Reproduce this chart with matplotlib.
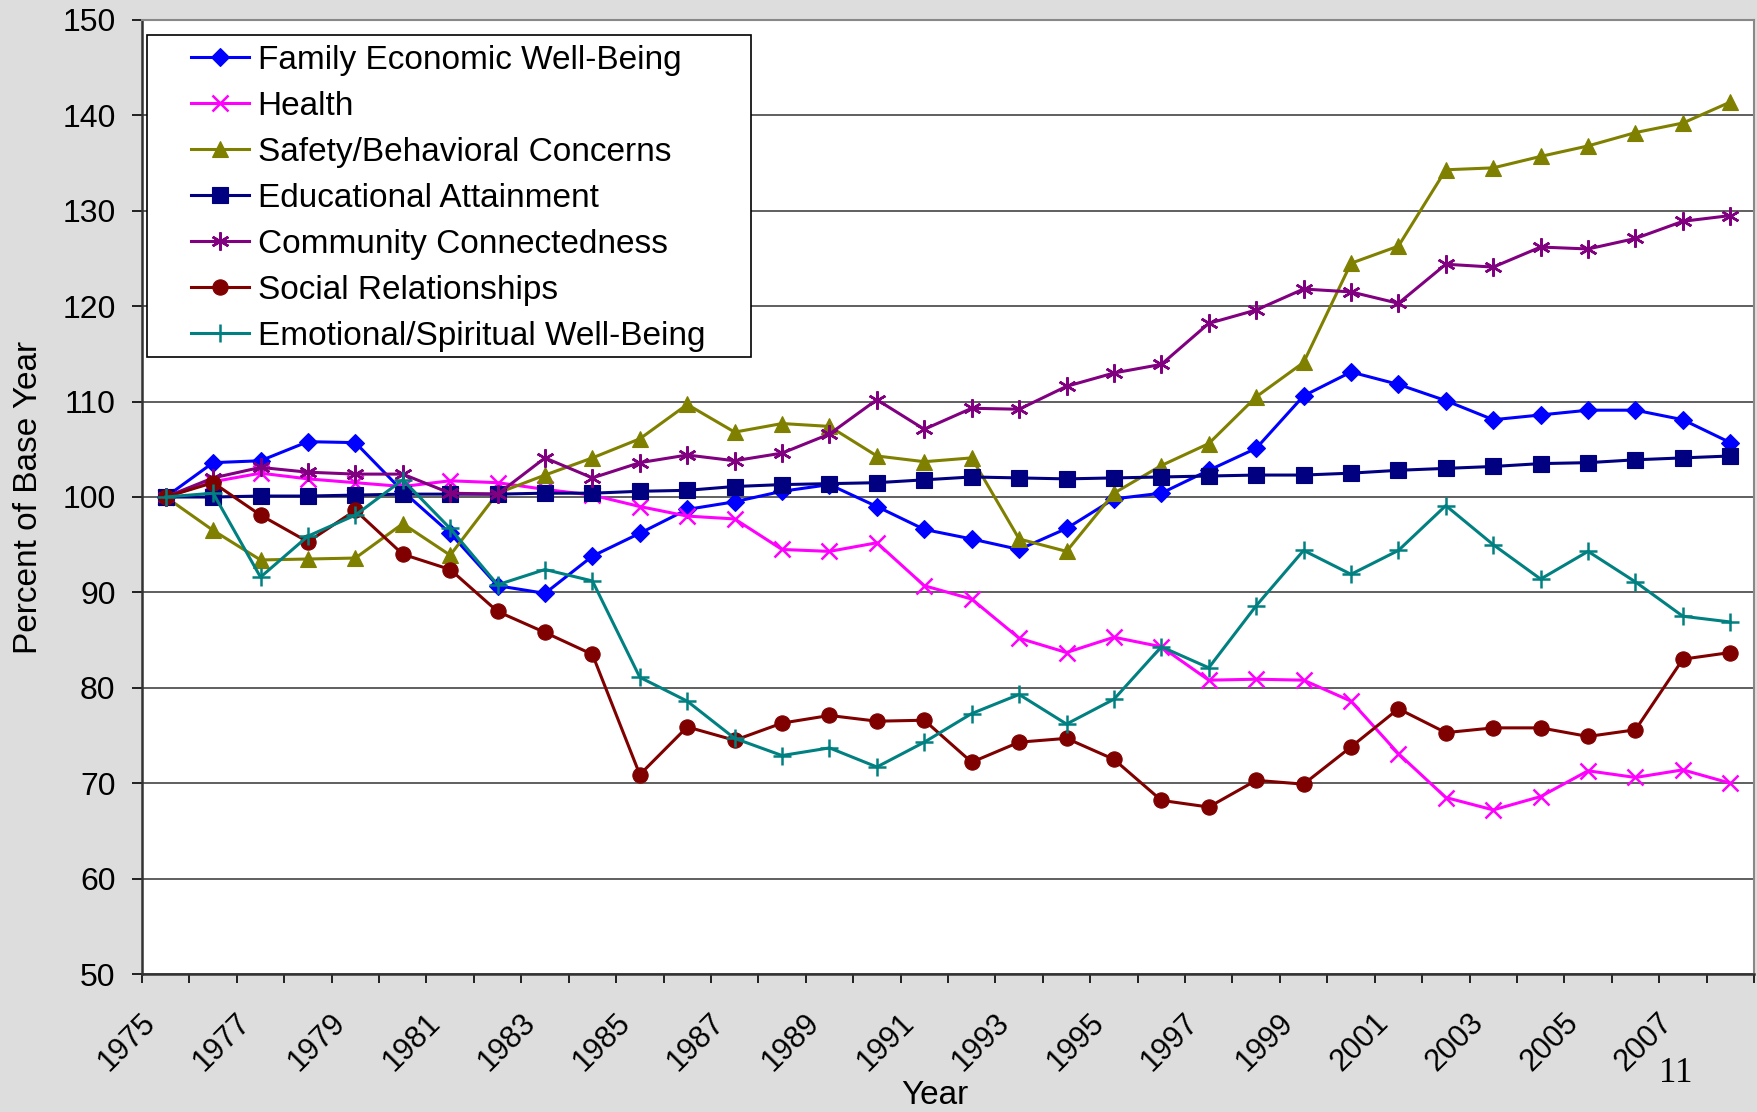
import numpy as np
import matplotlib
matplotlib.use("Agg")
import matplotlib.pyplot as plt
from matplotlib.patches import Rectangle
from matplotlib.transforms import ScaledTranslation, blended_transform_factory

plt.rcParams['font.family'] = ['Liberation Sans', 'DejaVu Sans']

years = list(range(1975, 2009))

family_econ = [100, 103.6, 103.8, 105.8, 105.7, 100.6, 96.2, 90.7, 89.9, 93.8, 96.2, 98.7,
               99.5, 100.6, 101.3, 99.0, 96.6, 95.6, 94.5, 96.7, 99.8, 100.4, 102.8, 105.1,
               110.6, 113.1, 111.8, 110.1, 108.1, 108.6, 109.1, 109.1, 108.1, 105.7]
health = [100, 101.6, 102.5, 101.9, 101.5, 101.1, 101.7, 101.5, 100.8, 100.2, 99.0, 98.0,
          97.7, 94.5, 94.3, 95.2, 90.7, 89.3, 85.2, 83.7, 85.3, 84.3, 80.8, 80.9,
          80.8, 78.6, 73.1, 68.5, 67.2, 68.6, 71.3, 70.6, 71.4, 70.0]
safety = [100, 96.5, 93.4, 93.5, 93.6, 97.2, 93.9, 100.4, 102.3, 104.1, 106.1, 109.7,
          106.8, 107.7, 107.4, 104.3, 103.7, 104.1, 95.6, 94.3, 100.4, 103.3, 105.6, 110.5,
          114.1, 124.5, 126.3, 134.3, 134.5, 135.7, 136.8, 138.2, 139.2, 141.4]
education = [100, 100.0, 100.1, 100.1, 100.2, 100.3, 100.3, 100.3, 100.4, 100.4, 100.6, 100.7,
             101.1, 101.3, 101.4, 101.5, 101.8, 102.1, 102.0, 101.9, 102.0, 102.1, 102.2, 102.3,
             102.3, 102.5, 102.8, 103.0, 103.2, 103.5, 103.6, 103.9, 104.1, 104.3]
community = [100, 102.0, 103.1, 102.6, 102.4, 102.4, 100.4, 100.3, 104.1, 102.0, 103.6, 104.4,
             103.8, 104.6, 106.6, 110.2, 107.1, 109.3, 109.2, 111.6, 113.0, 113.9, 118.2, 119.6,
             121.8, 121.5, 120.3, 124.4, 124.1, 126.2, 126.0, 127.1, 128.9, 129.5]
social = [100, 101.5, 98.1, 95.3, 98.6, 94.0, 92.4, 88.0, 85.8, 83.5, 70.9, 75.9,
          74.5, 76.3, 77.1, 76.5, 76.6, 72.2, 74.3, 74.7, 72.5, 68.2, 67.5, 70.3,
          69.9, 73.8, 77.8, 75.3, 75.8, 75.8, 74.9, 75.6, 83.0, 83.7]
emotional = [100, 100.4, 91.6, 95.9, 98.1, 101.8, 96.7, 90.8, 92.4, 91.2, 81.1, 78.6,
             74.7, 72.9, 73.7, 71.7, 74.3, 77.3, 79.3, 76.2, 78.8, 84.3, 82.1, 88.6,
             94.4, 91.9, 94.4, 99.1, 95.0, 91.4, 94.3, 91.1, 87.5, 86.9]

series = [
    ("Family Economic Well-Being", family_econ, "#0000FF", "D", 9.5),
    ("Health", health, "#FF00FF", "x", 11),
    ("Safety/Behavioral Concerns", safety, "#808000", "^", 12),
    ("Educational Attainment", education, "#000080", "s", 11.5),
    ("Community Connectedness", community, "#800080", (6, 2, 0), 13),
    ("Social Relationships", social, "#800000", "o", 11),
    ("Emotional/Spiritual Well-Being", emotional, "#008080", "+", 13),
]

W, H = 1758, 1112
fig = plt.figure(figsize=(W / 100, H / 100), dpi=100, facecolor="#DDDDDD")
ax = fig.add_axes([142 / W, 1 - 974 / H, 1612 / W, 954 / H])
ax.set_facecolor("white")

x = np.arange(len(years))
for name, vals, col, mk, ms in series:
    ax.plot(x, vals, color=col, marker=mk, markersize=ms, lw=2.2,
            markeredgewidth=1.8 if mk in ("x", "+", (6, 2, 0)) else 0.8,
            markeredgecolor=col, label=name)

ax.set_ylim(50, 150)
ax.set_xlim(-0.5, len(years) - 0.5)
ax.set_yticks(range(50, 151, 10))
ax.yaxis.grid(True, color="#444444", lw=1.2)
ax.set_axisbelow(True)
ax.tick_params(axis="y", labelsize=23, length=7, width=1.2, pad=12)

# tick marks on category boundaries, year labels every other category
ax.set_xticks(np.arange(-0.5, len(years)))
ax.set_xticklabels([])
ax.tick_params(axis="x", length=6.5, width=1.2)
lab_tr = blended_transform_factory(ax.transData, ax.transAxes) + \
    ScaledTranslation(-0.25, -0.335, fig.dpi_scale_trans)
for i in range(0, len(years), 2):
    ax.text(x[i], 0, str(years[i]), transform=lab_tr, rotation=45,
            rotation_mode="anchor", ha="right", va="top", fontsize=22)

for s in ["left", "bottom"]:
    ax.spines[s].set_color("#333333")
    ax.spines[s].set_linewidth(1.8)
for s in ["right", "top"]:
    ax.spines[s].set_color("#888888")
    ax.spines[s].set_linewidth(1.5)

fig.text(29 / W, 1 - 497 / H, "Percent of Base Year", rotation=90,
         ha="center", va="center", fontsize=24)
fig.text(935 / W, 1 - 1095 / H, "Year", ha="center", va="center", fontsize=24)
fig.text(1676 / W, 1 - 1074 / H, "11", ha="center", va="center", fontsize=25,
         family="Liberation Serif")

# legend box drawn separately so the inner spacing matches
fig.patches.append(Rectangle((147 / W, 1 - 357 / H), (751 - 147) / W, (357 - 35) / H,
                             transform=fig.transFigure, facecolor="white",
                             edgecolor="black", lw=1.2, zorder=3))
leg = fig.legend(*ax.get_legend_handles_labels(), loc="upper left",
                 bbox_to_anchor=(191 / W, 1 - 45 / H), borderaxespad=0, borderpad=0,
                 fontsize=24, frameon=False, handlelength=1.75,
                 labelspacing=0.45, handletextpad=0.25)
leg.set_zorder(4)

fig.savefig("out.png", dpi=100, facecolor=fig.get_facecolor())
